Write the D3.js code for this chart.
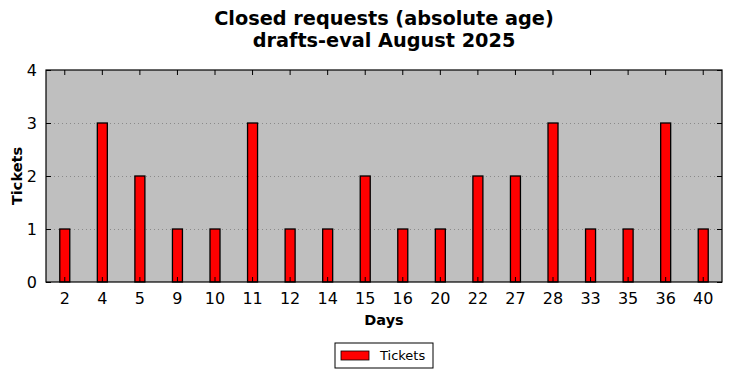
<!DOCTYPE html>
<html>
<head>
<meta charset="utf-8">
<script src="https://cdn.jsdelivr.net/npm/d3@7"></script>
<style>
  body { margin: 0; background: #fff; }
  svg { font-family: "DejaVu Sans", sans-serif; }
</style>
</head>
<body>
<svg id="chart"></svg>
<script>
const width = 732;
const height = 378;

// Data
const days = ["2", "4", "5", "9", "10", "11", "12", "14", "15", "16", "20", "22", "27", "28", "33", "35", "36", "40"];
const tickets = [1, 3, 2, 1, 1, 3, 1, 1, 2, 1, 1, 2, 2, 3, 1, 1, 3, 1];
const yTicks = [0, 1, 2, 3, 4];

const data = days.map((d, i) => ({ day: d, count: tickets[i] }));

const svg = d3.select("#chart")
  .attr("width", width)
  .attr("height", height);

const margin = { top: 70, right: 10, bottom: 96, left: 46 };
const innerWidth = width - margin.left - margin.right;
const innerHeight = height - margin.top - margin.bottom;

const xScale = d3.scaleBand()
  .domain(days)
  .range([0, innerWidth])
  .padding(0);

const yScale = d3.scaleLinear()
  .domain([0, 4])
  .range([innerHeight, 0]);

const g = svg.append("g")
  .attr("transform", `translate(${margin.left},${margin.top})`);

// Plot background
g.append("rect")
  .attr("width", innerWidth)
  .attr("height", innerHeight)
  .attr("fill", "#bfbfbf");

// Dotted gridlines
g.selectAll(".grid")
  .data(yTicks.slice(1, -1))
  .enter()
  .append("line")
  .attr("x1", 0)
  .attr("x2", innerWidth)
  .attr("y1", d => yScale(d) + 0.5)
  .attr("y2", d => yScale(d) + 0.5)
  .attr("stroke", "#8a8a8a")
  .attr("stroke-width", 1)
  .attr("stroke-dasharray", "1,3");

// Bars
const barWidth = 10;
g.selectAll(".bar")
  .data(data)
  .enter()
  .append("rect")
  .attr("x", d => xScale(d.day) + xScale.bandwidth() / 2 - barWidth / 2)
  .attr("y", d => yScale(d.count))
  .attr("width", barWidth)
  .attr("height", d => innerHeight - yScale(d.count))
  .attr("fill", "#ff0000")
  .attr("stroke", "#000")
  .attr("stroke-width", 1.3);

// X axis (bottom) with inward ticks
const xAxisG = g.append("g")
  .attr("transform", `translate(0,${innerHeight})`)
  .call(d3.axisBottom(xScale).tickSize(-5).tickPadding(11));
xAxisG.attr("font-family", "DejaVu Sans").attr("font-size", 16);
xAxisG.select(".domain").remove();
xAxisG.selectAll("line").attr("stroke", "#000");
xAxisG.selectAll("text").attr("fill", "#000");

// Top ticks
const xTopG = g.append("g")
  .call(d3.axisTop(xScale).tickSize(-5).tickFormat(""));
xTopG.select(".domain").remove();

// Y axis (left)
const yAxisG = g.append("g")
  .call(d3.axisLeft(yScale).tickValues(yTicks).tickFormat(d3.format("d")).tickSize(-5).tickPadding(9));
yAxisG.attr("font-family", "DejaVu Sans").attr("font-size", 16);
yAxisG.select(".domain").remove();
yAxisG.selectAll("text").attr("fill", "#000");

// Right ticks
const yRightG = g.append("g")
  .attr("transform", `translate(${innerWidth},0)`)
  .call(d3.axisRight(yScale).tickValues(yTicks).tickSize(-5).tickFormat(""));
yRightG.select(".domain").remove();

// Frame
g.append("rect")
  .attr("width", innerWidth)
  .attr("height", innerHeight)
  .attr("fill", "none")
  .attr("stroke", "#000")
  .attr("stroke-width", 1.2);

// Title
svg.append("text")
  .attr("x", margin.left + innerWidth / 2)
  .attr("y", 25)
  .attr("text-anchor", "middle")
  .style("font-size", "19.3px")
  .style("font-weight", "bold")
  .text("Closed requests (absolute age)");

svg.append("text")
  .attr("x", margin.left + innerWidth / 2)
  .attr("y", 47)
  .attr("text-anchor", "middle")
  .style("font-size", "19.3px")
  .style("font-weight", "bold")
  .text("drafts-eval August 2025");

// Axis labels
svg.append("text")
  .attr("x", margin.left + innerWidth / 2)
  .attr("y", 325)
  .attr("text-anchor", "middle")
  .style("font-size", "14.5px")
  .style("font-weight", "bold")
  .text("Days");

svg.append("text")
  .attr("transform", `translate(22,${margin.top + innerHeight / 2}) rotate(-90)`)
  .attr("text-anchor", "middle")
  .style("font-size", "14.5px")
  .style("font-weight", "bold")
  .text("Tickets");

// Legend
const legend = svg.append("g")
  .attr("transform", "translate(335,343)");

legend.append("rect")
  .attr("width", 98)
  .attr("height", 25)
  .attr("fill", "#fff")
  .attr("stroke", "#000")
  .attr("stroke-width", 1);

legend.append("rect")
  .attr("x", 6)
  .attr("y", 8)
  .attr("width", 28)
  .attr("height", 9)
  .attr("fill", "#ff0000")
  .attr("stroke", "#000")
  .attr("stroke-width", 0.8);

legend.append("text")
  .attr("x", 45)
  .attr("y", 17)
  .style("font-size", "13px")
  .text("Tickets");
</script>
</body>
</html>
